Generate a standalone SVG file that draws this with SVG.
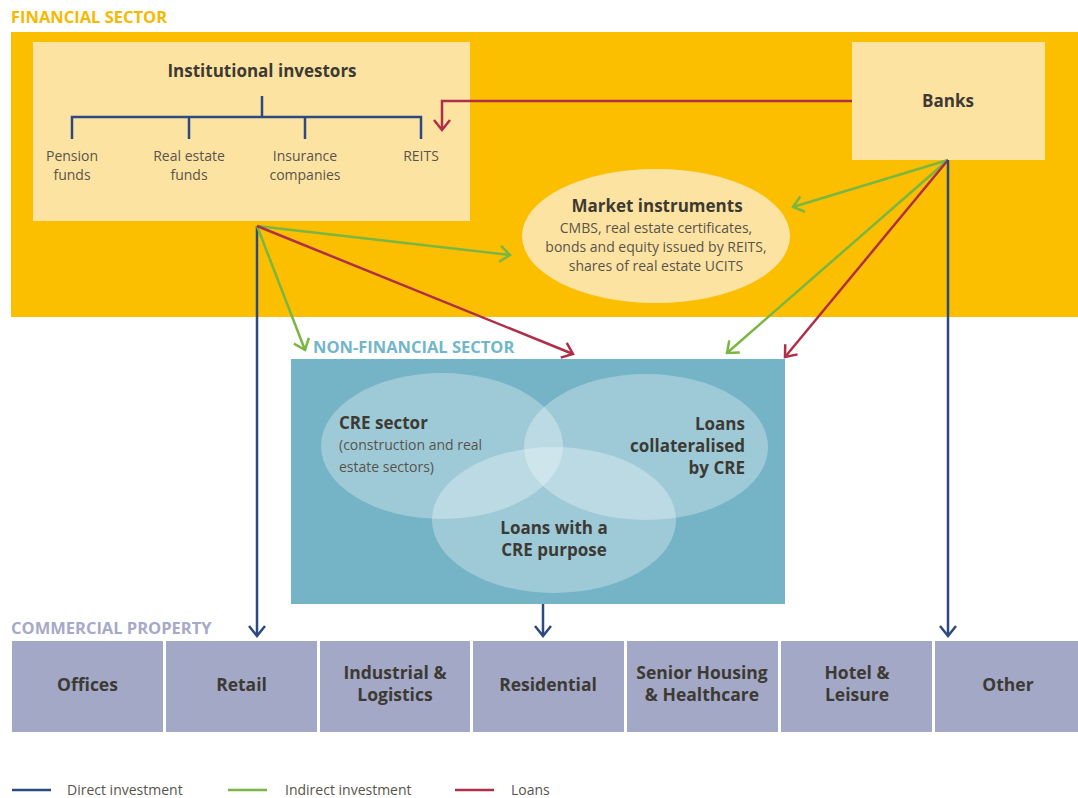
<svg xmlns="http://www.w3.org/2000/svg" width="1078" height="798" viewBox="0 0 1078 798">
  <style>
    .sec { font-family: "Open Sans", "Liberation Sans", sans-serif; font-weight: 700; font-size: 16.5px; }
    .hd { font-family: "Open Sans", "Liberation Sans", sans-serif; font-weight: 700; font-size: 17px; fill: #3d3a33; }
    .tx { font-family: "Open Sans", "Liberation Sans", sans-serif; font-size: 14px; fill: #58544c; }
    .pb { fill: #a4a8c7; }
    .pt { font-family: "Open Sans", "Liberation Sans", sans-serif; font-weight: 700; font-size: 17.5px; fill: #3d3a33; text-anchor: middle; }
    .lg { font-family: "Open Sans", "Liberation Sans", sans-serif; font-size: 14px; fill: #58544c; }
    .direct { stroke: #2c4a80; stroke-width: 2.5; fill: none; }
    .indirect { stroke: #7ab642; stroke-width: 2.5; fill: none; }
    .loan { stroke: #b02e48; stroke-width: 2.5; fill: none; }
    .venn { fill: #ffffff; fill-opacity: 0.3; }
  </style>
  <defs>
    <marker id="aDirect" markerUnits="userSpaceOnUse" markerWidth="20" markerHeight="20" viewBox="-12 -10 14 20" refX="0" refY="0" orient="auto">
      <path d="M-10,-8 L0,0 L-10,8" fill="none" stroke="#2c4a80" stroke-width="2.5"/>
    </marker>
    <marker id="aIndirect" markerUnits="userSpaceOnUse" markerWidth="20" markerHeight="20" viewBox="-12 -10 14 20" refX="0" refY="0" orient="auto">
      <path d="M-10,-8 L0,0 L-10,8" fill="none" stroke="#7ab642" stroke-width="2.5"/>
    </marker>
    <marker id="aLoan" markerUnits="userSpaceOnUse" markerWidth="20" markerHeight="20" viewBox="-12 -10 14 20" refX="0" refY="0" orient="auto">
      <path d="M-10,-8 L0,0 L-10,8" fill="none" stroke="#b02e48" stroke-width="2.5"/>
    </marker>
  </defs>

  <rect width="1078" height="798" fill="#ffffff"/>

  <!-- Financial sector band -->
  <g id="financial-sector">
    <text class="sec" x="11" y="23" fill="#f6b900">FINANCIAL SECTOR</text>
    <rect x="11" y="32" width="1067" height="285" fill="#fbbf00"/>
  </g>

  <g id="institutional-investors">
    <rect x="33" y="42" width="437" height="179" fill="#fde3a2"/>
    <text class="hd" x="262" y="77" text-anchor="middle">Institutional investors</text>
    <path class="direct" d="M262,96 V117 M72,139 V117 H421 V139 M189,117 V139 M305,117 V139"/>
    <g class="tx" text-anchor="middle">
      <text x="72" y="161">Pension</text>
      <text x="72" y="180">funds</text>
      <text x="189" y="161">Real estate</text>
      <text x="189" y="180">funds</text>
      <text x="305" y="161">Insurance</text>
      <text x="305" y="180">companies</text>
      <text x="421" y="161">REITS</text>
    </g>
  </g>

  <g id="banks">
    <rect x="852" y="42" width="193" height="118" fill="#fde3a2"/>
    <text class="hd" x="948" y="107" text-anchor="middle">Banks</text>
  </g>

  <g id="market-instruments">
    <ellipse cx="656" cy="236" rx="134" ry="67" fill="#fde3a2"/>
    <text class="hd" x="657" y="212" text-anchor="middle">Market instruments</text>
    <g class="tx" text-anchor="middle">
      <text x="656" y="233">CMBS, real estate certificates,</text>
      <text x="656" y="252">bonds and equity issued by REITS,</text>
      <text x="656" y="271">shares of real estate UCITS</text>
    </g>
  </g>

  <!-- Non-financial sector -->
  <g id="non-financial-sector">
    <text class="sec" x="313" y="353" fill="#72b6ca">NON-FINANCIAL SECTOR</text>
    <rect x="291" y="359" width="494" height="245" fill="#75b3c7"/>
    <ellipse class="venn" cx="442" cy="446" rx="121" ry="73"/>
    <ellipse class="venn" cx="646" cy="447" rx="122" ry="73"/>
    <ellipse class="venn" cx="554" cy="520" rx="122" ry="73"/>
    <text class="hd" x="339" y="429">CRE sector</text>
    <text class="tx" x="339" y="450">(construction and real</text>
    <text class="tx" x="339" y="472">estate sectors)</text>
    <g class="hd" text-anchor="end">
      <text x="745" y="430">Loans</text>
      <text x="745" y="452">collateralised</text>
      <text x="745" y="474">by CRE</text>
    </g>
    <g class="hd" text-anchor="middle">
      <text x="554" y="534">Loans with a</text>
      <text x="554" y="556">CRE purpose</text>
    </g>
  </g>

  <!-- Commercial property -->
  <g id="commercial-property">
    <text class="sec" x="11" y="634" fill="#a5a9ca">COMMERCIAL PROPERTY</text>
  </g>
  <g id="offices"><rect class="pb" x="12" y="641" width="151" height="91"/><text class="pt" x="87.5" y="691">Offices</text></g>
  <g id="retail"><rect class="pb" x="166" y="641" width="151" height="91"/><text class="pt" x="241.5" y="691">Retail</text></g>
  <g id="industrial"><rect class="pb" x="320" y="641" width="150" height="91"/><text class="pt" x="395" y="679">Industrial &amp;</text><text class="pt" x="395" y="701">Logistics</text></g>
  <g id="residential"><rect class="pb" x="473" y="641" width="151" height="91"/><text class="pt" x="548" y="691">Residential</text></g>
  <g id="senior-housing"><rect class="pb" x="627" y="641" width="151" height="91"/><text class="pt" x="702" y="679">Senior Housing</text><text class="pt" x="702" y="701">&amp; Healthcare</text></g>
  <g id="hotel-leisure"><rect class="pb" x="781" y="641" width="151" height="91"/><text class="pt" x="857" y="679">Hotel &amp;</text><text class="pt" x="857" y="701">Leisure</text></g>
  <g id="other"><rect class="pb" x="935" y="641" width="143" height="91"/><text class="pt" x="1008" y="691">Other</text></g>

  <!-- Connectors -->
  <g id="connectors">
    <path class="loan" d="M852,101 H442 V130" marker-end="url(#aLoan)"/>
    <path class="indirect" d="M948,160 L793,207" marker-end="url(#aIndirect)"/>
    <path class="indirect" d="M948,160 L727,353" marker-end="url(#aIndirect)"/>
    <path class="loan" d="M948,160 L785,357" marker-end="url(#aLoan)"/>
    <path class="direct" d="M948,160 V636" marker-end="url(#aDirect)"/>
    <path class="direct" d="M257,226 V636" marker-end="url(#aDirect)"/>
    <path class="indirect" d="M257,226 L510,255" marker-end="url(#aIndirect)"/>
    <path class="indirect" d="M257,226 L305,350" marker-end="url(#aIndirect)"/>
    <path class="loan" d="M257,226 L573,354" marker-end="url(#aLoan)"/>
    <path class="direct" d="M543,604 V636" marker-end="url(#aDirect)"/>
  </g>

  <!-- Legend -->
  <g id="legend">
    <line class="direct" x1="12" y1="790" x2="51" y2="790"/>
    <text class="lg" x="67" y="795">Direct investment</text>
    <line class="indirect" x1="228" y1="790" x2="267" y2="790"/>
    <text class="lg" x="285" y="795">Indirect investment</text>
    <line class="loan" x1="455" y1="790" x2="494" y2="790"/>
    <text class="lg" x="511" y="795">Loans</text>
  </g>
</svg>
